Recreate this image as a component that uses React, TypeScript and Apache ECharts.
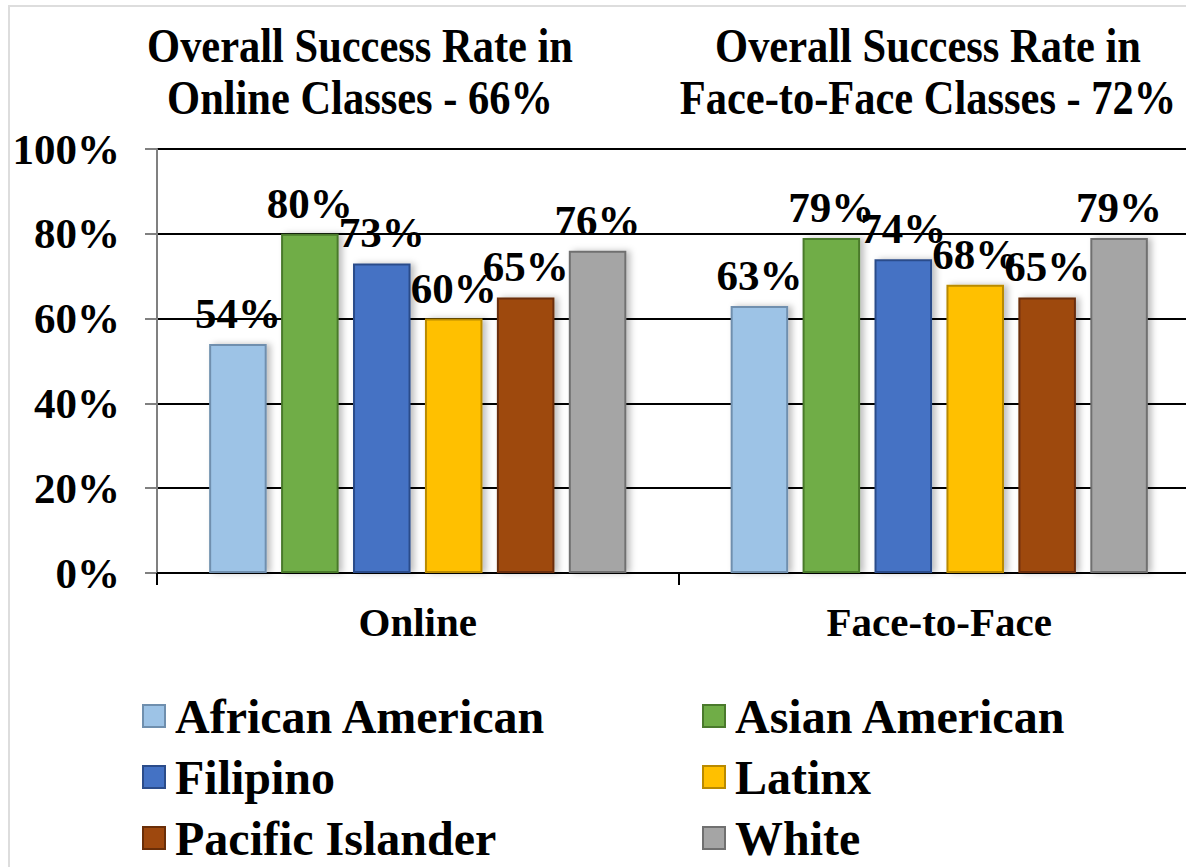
import React, { useEffect, useRef } from "react";
import * as echarts from "echarts";

const categories = ["Online", "Face-to-Face"];
const groupNames = ["African American", "Asian American", "Filipino", "Latinx", "Pacific Islander", "White"];
const africanAmerican = [54, 63];
const asianAmerican = [80, 79];
const filipino = [73, 74];
const latinx = [60, 68];
const pacificIslander = [65, 65];
const white = [76, 79];
const yTicks = [0, 20, 40, 60, 80, 100];
const titles = [
  "Overall Success Rate in\nOnline Classes - 66%",
  "Overall Success Rate in\nFace-to-Face Classes - 72%",
];

const seriesValues = [africanAmerican, asianAmerican, filipino, latinx, pacificIslander, white];
const colors = ["#9DC3E6", "#70AD47", "#4472C4", "#FFC000", "#9E480E", "#A5A5A5"];
const borders = ["#6F8FAE", "#4A7A2C", "#2B4C8A", "#B98A00", "#6A2E08", "#707070"];

const SERIF = '"Liberation Serif", "Times New Roman", serif';

export default function App() {
  const ref = useRef<HTMLDivElement>(null);
  useEffect(() => {
    if (!ref.current) return;
    const chart = echarts.init(ref.current, null, { renderer: "svg" });
    const series = groupNames.map((name, i) => ({
      name,
      type: "bar",
      data: seriesValues[i],
      barGap: "25%",
      barCategoryGap: "20%",
      itemStyle: {
        color: colors[i],
        borderColor: borders[i],
        borderWidth: 2,
        shadowColor: "rgba(0,0,0,0.25)",
        shadowBlur: 6,
        shadowOffsetX: 4,
        shadowOffsetY: 0,
      },
      label: {
        show: true,
        position: "top",
        distance: 9,
        formatter: "{c}%",
        fontFamily: SERIF,
        fontWeight: "bold",
        fontSize: 43,
        color: "#000",
      },
    }));
    const legendBase = {
      orient: "vertical",
      top: 687,
      height: 180,
      itemGap: 13,
      itemWidth: 22,
      itemHeight: 22,
      icon: "rect",
      textStyle: {
        fontFamily: SERIF,
        fontWeight: "bold",
        fontSize: 48,
        lineHeight: 48,
        color: "#000",
        padding: [0, 0, 0, 5],
      },
    };
    chart.setOption({
      animation: false,
      backgroundColor: "#fff",
      graphic: [
        {
          type: "rect",
          shape: { x: 9, y: 6, width: 1200, height: 900 },
          style: { fill: "none", stroke: "#DDDDDD", lineWidth: 2 },
          silent: true,
        },
        ...titles.map((t, i) => ({
          type: "text",
          x: i === 0 ? 360 : 928,
          y: 20,
          scaleX: 0.885,
          style: {
            text: t,
            font: `bold 48px ${SERIF}`,
            fill: "#000",
            textAlign: "center",
            textVerticalAlign: "top",
            lineHeight: 52,
          },
        })),
      ],
      grid: {
        left: 157,
        width: 1043,
        top: 149,
        height: 424,
        containLabel: false,
        outerBoundsMode: "none",
      },
      legend: [
        { ...legendBase, data: ["African American", "Filipino", "Pacific Islander"], left: 137 },
        { ...legendBase, data: ["Asian American", "Latinx", "White"], left: 697 },
      ],
      xAxis: {
        type: "category",
        data: categories,
        axisLine: { show: true, lineStyle: { color: "#000", width: 2 } },
        axisTick: { show: true, length: 12, lineStyle: { color: "#000", width: 2 } },
        axisLabel: { fontFamily: SERIF, fontWeight: "bold", fontSize: 41, color: "#000", margin: 28 },
      },
      yAxis: {
        type: "value",
        min: yTicks[0],
        max: yTicks[yTicks.length - 1],
        interval: 20,
        axisLine: { show: true, lineStyle: { color: "#808080", width: 2 } },
        axisTick: { show: true, length: 12, lineStyle: { color: "#808080", width: 2 } },
        splitLine: { show: true, lineStyle: { color: "#000", width: 2 } },
        axisLabel: {
          formatter: "{value}%",
          fontFamily: SERIF,
          fontWeight: "bold",
          fontSize: 43,
          color: "#000",
          margin: 37,
        },
      },
      series,
    });
    return () => chart.dispose();
  }, []);
  return (
    <div
      ref={ref}
      style={{ position: "fixed", left: 0, top: 0, width: 1186, height: 867, background: "#fff" }}
    />
  );
}
